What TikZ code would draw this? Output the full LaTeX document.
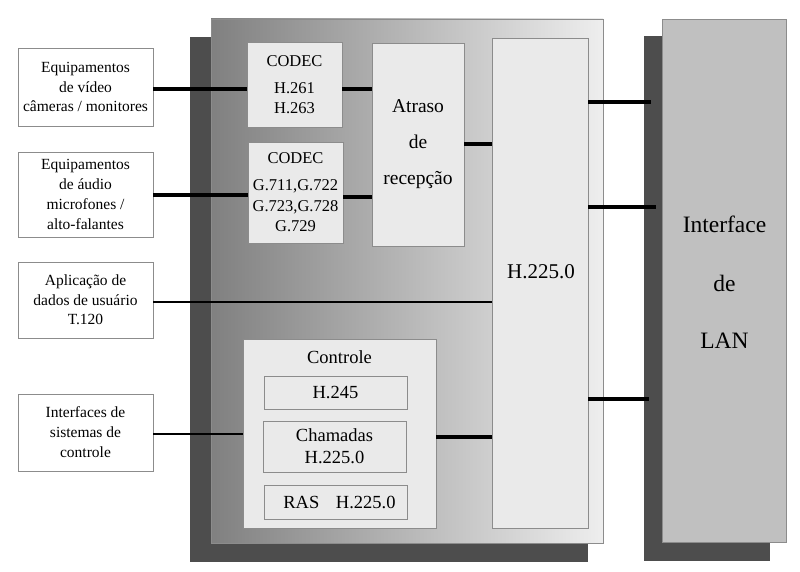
\documentclass[tikz,border=0pt]{standalone}
\usepackage{fontspec}
\setmainfont{Liberation Serif}
\usetikzlibrary{calc}
\definecolor{shadowc}{HTML}{4D4D4D}
\definecolor{edgec}{HTML}{8C8C8C}
\definecolor{boxc}{HTML}{EAEAEA}
\definecolor{lanc}{HTML}{C0C0C0}
\definecolor{gradl}{HTML}{808080}
\definecolor{gradr}{HTML}{EEEEEE}
\begin{document}
\begin{tikzpicture}[x=1pt,y=-1pt,
  corner/.style={anchor=north west, inner sep=0pt, outer sep=0pt, align=center},
  shadowbox/.style={corner, fill=shadowc},
  whitebox/.style={corner, draw=edgec, line width=0.9pt, fill=white,
    font=\fontsize{15.5}{19.5}\selectfont},
  graybox/.style={corner, draw=edgec, line width=0.9pt, fill=boxc},
  codecfont/.style={font=\fontsize{16.5}{20.5}\selectfont},
  midfont/.style={font=\fontsize{18.5}{22}\selectfont},
  thk/.style={line width=3.2pt},
  thn/.style={line width=2.4pt}]
\useasboundingbox[fill=white] (0,0) rectangle (800,572);
% shadows and big blocks
\node[shadowbox, minimum width=398pt, minimum height=525pt] (msh) at (190,37) {};
\node[corner, draw=edgec, line width=0.9pt, left color=gradl, right color=gradr,
  minimum width=392pt, minimum height=524pt] (main) at (211,19) {};
\node[shadowbox, minimum width=126pt, minimum height=525pt] (lansh) at (644,36) {};
\node[corner, draw=edgec, line width=0.9pt, fill=lanc,
  minimum width=124pt, minimum height=523pt] (lan) at (662,19) {};
\node[anchor=base, font=\fontsize{23.5}{28}\selectfont] (lan1) at (724.5,233) {Interface};
\node[anchor=base, font=\fontsize{23.5}{28}\selectfont] (lan2) at (724.5,291) {de};
\node[anchor=base, font=\fontsize{23.5}{28}\selectfont] (lan3) at (724.5,348) {LAN};
% H.225.0
\node[graybox, minimum width=96pt, minimum height=490pt] (h) at (492,38) {};
\node[font=\fontsize{21}{24}\selectfont] (hl) at (541,272) {H.225.0};
% left boxes
\node[whitebox, minimum width=135pt, minimum height=78pt] (v) at (18,48)
  {Equipamentos\\de vídeo\\câmeras / monitores};
\node[whitebox, minimum width=135pt, minimum height=85pt, font=\fontsize{15.5}{20}\selectfont] (a) at (18,152)
  {Equipamentos\\de áudio\\microfones /\\alto-falantes};
\node[whitebox, minimum width=135pt, minimum height=76pt] (d) at (18,262)
  {Aplicação de\\dados de usuário\\T.120};
\node[whitebox, minimum width=135pt, minimum height=77pt, font=\fontsize{15.5}{20}\selectfont] (i) at (18,394)
  {Interfaces de\\sistemas de\\controle};
% codecs
\node[graybox, codecfont, minimum width=95pt, minimum height=85pt] (c1) at (247,42)
  {CODEC\\[6.5pt]H.261\\H.263};
\node[graybox, codecfont, minimum width=95pt, minimum height=101pt] (c2) at (248,142)
  {CODEC\\[6.5pt]G.711,G.722\\G.723,G.728\\G.729};
\node[graybox, font=\fontsize{19.5}{36}\selectfont, minimum width=92pt, minimum height=203pt] (at) at (372,43)
  {Atraso\\de\\recepção};
% controle
\node[graybox, minimum width=193pt, minimum height=189pt] (ctl) at (243,339) {};
\node[midfont] (ctlt) at (339.5,357) {Controle};
\node[graybox, midfont, minimum width=143pt, minimum height=33pt] (h245) at (264,376) {H.245};
\node[graybox, midfont, minimum width=143pt, minimum height=51pt] (cham) at (263,421) {Chamadas\\H.225.0};
\node[graybox, midfont, minimum width=143pt, minimum height=34pt] (ras) at (264,485) {\hspace{8pt}RAS\hspace{0.9em}H.225.0};
% connectors
\draw[thk] (v.east |- 0,89) -- (c1.west |- 0,89);
\draw[thk] (c1.east |- 0,89) -- (at.west |- 0,89);
\draw[thk] (a.east |- 0,195) -- (c2.west |- 0,195);
\draw[thk] (c2.east |- 0,197) -- (at.west |- 0,197);
\draw[thk] (at.east |- 0,144) -- (h.west |- 0,144);
\draw[thn] (d.east |- 0,302) -- (h.west |- 0,302);
\draw[thn] (i.east |- 0,434) -- (ctl.west |- 0,434);
\draw[thk] (ctl.east |- 0,437) -- (h.west |- 0,437);
\draw[thk] (h.east |- 0,102) -- ($(lansh.west |- 0,102)+(7,0)$);
\draw[thk] (h.east |- 0,207) -- ($(lansh.west |- 0,207)+(12,0)$);
\draw[thk] (h.east |- 0,399) -- ($(lansh.west |- 0,399)+(5,0)$);
\end{tikzpicture}
\end{document}
